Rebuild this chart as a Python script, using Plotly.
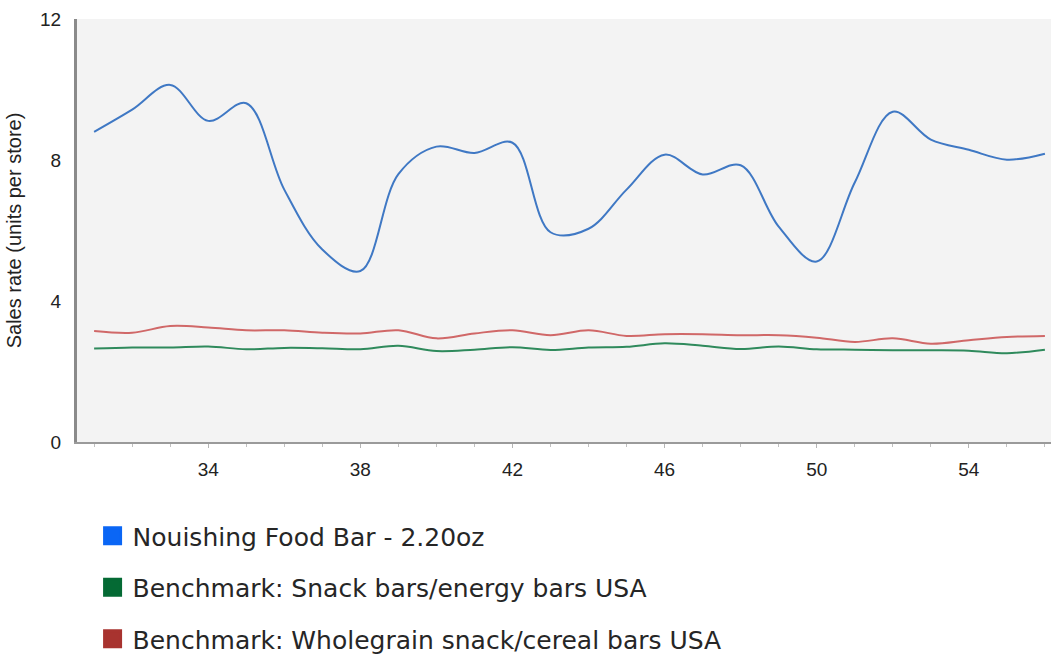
import plotly.graph_objects as go

# Week numbers on the x axis
weeks = list(range(31, 57))

# Sales rate (units per store) per week
food_bar = [8.80, 9.43, 10.13, 9.11, 9.61, 7.16, 5.46, 4.85, 7.60, 8.38, 8.20, 8.49, 5.95,
            6.05, 7.16, 8.15, 7.59, 7.85, 6.11, 5.12, 7.36, 9.37, 8.58, 8.29, 8.01, 8.18]
snack_energy = [2.65, 2.68, 2.68, 2.71, 2.63, 2.67, 2.66, 2.63, 2.73, 2.58, 2.62, 2.69, 2.61,
                2.68, 2.70, 2.80, 2.73, 2.64, 2.71, 2.63, 2.62, 2.60, 2.60, 2.59, 2.52, 2.62]
wholegrain = [3.15, 3.10, 3.29, 3.25, 3.17, 3.17, 3.10, 3.08, 3.17, 2.94, 3.08, 3.17, 3.03,
              3.17, 3.01, 3.06, 3.06, 3.03, 3.03, 2.96, 2.84, 2.94, 2.79, 2.89, 2.98, 3.01]

series_names = [
    "Nouishing Food Bar - 2.20oz",
    "Benchmark: Snack bars/energy bars USA",
    "Benchmark: Wholegrain snack/cereal bars USA",
]
line_colors = ["#3f78c4", "#2f8a5c", "#d06868"]
legend_colors = ["#0a66f5", "#046a34", "#a8332f"]

x_ticks = [34, 38, 42, 46, 50, 54]
y_ticks = [0, 4, 8, 12]

fig = go.Figure()

for name, values, lc in zip(series_names, [food_bar, snack_energy, wholegrain], line_colors):
    fig.add_trace(go.Scatter(
        x=weeks, y=values, mode="lines", name=name,
        line=dict(color=lc, width=2, shape="spline", smoothing=1.0),
        showlegend=False, hoverinfo="x+y",
    ))

# Square swatches for the legend
for i, (name, lcol) in enumerate(zip(series_names, legend_colors)):
    fig.add_trace(go.Scatter(
        x=[None], y=[None], mode="markers", name=name,
        marker=dict(symbol="square", size=16, color=lcol,
                    line=dict(color=lcol, width=3)),
        legendgroup=f"g{i}", showlegend=True,
    ))

fig.update_layout(
    width=1051, height=656,
    margin=dict(l=77, r=0, t=19, b=214, autoexpand=False),
    paper_bgcolor="white",
    plot_bgcolor="#f3f3f3",
    font=dict(family="Liberation Sans, Arial, sans-serif", color="#222222"),
    legend=dict(
        x=0.016, y=-0.168, xanchor="left", yanchor="top",
        orientation="v", tracegroupgap=16,
        font=dict(family="DejaVu Sans, Verdana, sans-serif", size=25, color="#262626"),
        bgcolor="rgba(0,0,0,0)",
    ),
    xaxis=dict(
        range=[30.55, 56.16],
        tickmode="array", tickvals=x_ticks, ticktext=[str(t) for t in x_ticks],
        ticks="outside", ticklen=4, tickcolor="#b5b5b5", tickwidth=1,
        minor=dict(dtick=1, tick0=0, ticks="outside", ticklen=3, tickcolor="#c0c0c0"),
        showgrid=False, zeroline=False,
        showline=True, linecolor="#9a9a9a", linewidth=2,
        tickfont=dict(size=19, color="#222222"),
        ticklabelstandoff=5,
    ),
    yaxis=dict(
        range=[0, 12],
        tickmode="array", tickvals=y_ticks,
        ticks="", showgrid=False, zeroline=False,
        showline=True, linecolor="#8a8a8a", linewidth=3,
        tickfont=dict(size=19, color="#222222"),
        ticklabelstandoff=9,
        title=dict(text="Sales rate (units per store)",
                   font=dict(size=20, color="#222222"), standoff=14),
    ),
)

fig.write_html("out.html")
